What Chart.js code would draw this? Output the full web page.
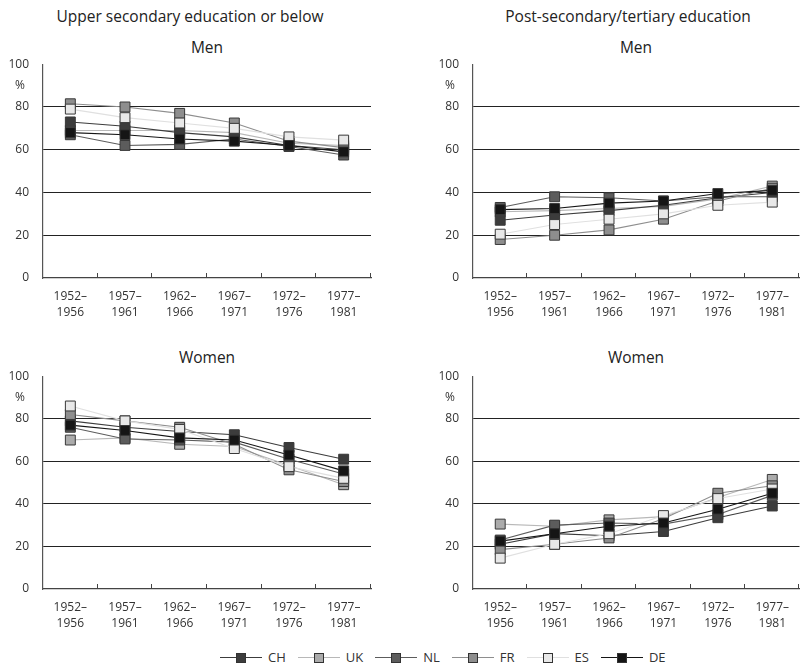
<!DOCTYPE html>
<html><head><meta charset="utf-8">
<script src="https://cdn.jsdelivr.net/npm/chart.js@4/dist/chart.umd.min.js"></script>
<style>
html,body{margin:0;padding:0;background:#fff;}
body{width:800px;height:671px;position:relative;overflow:hidden;font-family:"Open Sans",sans-serif;color:#222;}
.t{position:absolute;font-size:15.5px;white-space:nowrap;transform:translateX(-50%);line-height:20px;}
canvas{position:absolute;}
#legend{position:absolute;left:220px;width:580px;top:647px;height:20px;display:flex;justify-content:flex-start;align-items:center;font-size:13px;color:#333;}
.li{display:flex;align-items:center;margin-right:12px;}
.sym{position:relative;width:42px;height:12px;margin-right:6px;}
.sym .ln{position:absolute;left:0;right:0;top:5.5px;height:1.3px;}
.sym .sq{position:absolute;left:16px;top:1.5px;width:8px;height:8px;border:1px solid #333;}
</style></head>
<body>
<div class="t" style="left:190px;top:6px">Upper secondary education or below</div>
<div class="t" style="left:628px;top:6px">Post-secondary/tertiary education</div>
<div class="t" style="left:207px;top:37px">Men</div>
<div class="t" style="left:636px;top:37px">Men</div>
<div class="t" style="left:207px;top:347px">Women</div>
<div class="t" style="left:636px;top:347px">Women</div>
<canvas id="c1" style="left:0;top:43px" width="380" height="275"></canvas>
<canvas id="c2" style="left:430px;top:43px" width="370" height="275"></canvas>
<canvas id="c3" style="left:0;top:355px" width="380" height="274"></canvas>
<canvas id="c4" style="left:430px;top:355px" width="370" height="274"></canvas>
<div id="legend"></div>
<script>
const categories = ['1952–1956','1957–1961','1962–1966','1967–1971','1972–1976','1977–1981'];
const countries = ['CH','UK','NL','FR','ES','DE'];
const yTicks = [0,20,40,60,80,100];

// Men, upper secondary or below
const menLowCH = [73, 71, 68, 66, 62, 60];
const menLowUK = [69, 69, 69, 68, 63, 62];
const menLowNL = [67, 62, 62.5, 65, 61.5, 57.5];
const menLowFR = [81.5, 80, 77, 72.5, 64, 61];
const menLowES = [79, 75, 72.5, 70, 66, 64.5];
const menLowDE = [68, 67, 65, 64, 62, 59];
// Men, post-secondary/tertiary
const menHighCH = [27, 29.5, 31.5, 34, 37.5, 40];
const menHighUK = [31, 31.5, 32.5, 33.5, 37, 43];
const menHighNL = [33, 38, 37.5, 36, 38, 38];
const menHighFR = [18, 20, 22.5, 27.5, 36, 42];
const menHighES = [20.5, 25, 27.5, 30, 34, 35.5];
const menHighDE = [32, 32.5, 35, 36, 39.5, 41];
// Women, upper secondary or below
const womenLowCH = [79, 76, 74, 72.5, 66.5, 61];
const womenLowUK = [70, 71, 68, 67, 58, 49];
const womenLowNL = [76, 70.5, 70, 69, 61, 54];
const womenLowFR = [82, 79, 76, 68, 56, 50.5];
const womenLowES = [86, 79, 75, 66, 57.5, 52];
const womenLowDE = [77, 74.5, 71, 70, 63, 55.5];
// Women, post-secondary/tertiary
const womenHighCH = [21, 26, 25, 27, 33.5, 39];
const womenHighUK = [30.5, 29.5, 32.5, 34, 43, 51.5];
const womenHighNL = [23, 30, 31, 30.5, 35, 44];
const womenHighFR = [18.5, 21, 24, 33, 45, 48.5];
const womenHighES = [14.5, 21, 26, 34.5, 42.5, 47];
const womenHighDE = [22.5, 26, 29.5, 31, 37.5, 45];

const markerColors = {CH:'#3c3c3c', UK:'#ababab', NL:'#5c5c5c', FR:'#8e8e8e', ES:'#e8e8e8', DE:'#151515'};
const lineColors = {CH:'#3c3c3c', UK:'#b8b8b8', NL:'#5c5c5c', FR:'#8e8e8e', ES:'#e0e0e0', DE:'#151515'};
const drawOrder = {CH:3, UK:5, NL:4, FR:2, ES:1, DE:0};

const FONT = '"Open Sans", sans-serif';

const innerTicks = {
  id:'innerTicks',
  afterDraw(chart){
    const xs = chart.scales.x, ys = chart.scales.y, ctx = chart.ctx;
    const n = chart.data.labels.length;
    ctx.save();
    ctx.strokeStyle = '#444'; ctx.lineWidth = 1;
    ctx.beginPath();
    for(let i=1;i<=n;i++){
      const x = Math.round(xs.left + i*(xs.right-xs.left)/n) - 0.5;
      ctx.moveTo(x, ys.bottom); ctx.lineTo(x, ys.bottom-5);
    }
    ctx.stroke();
    ctx.fillStyle = '#333';
    ctx.font = '12px ' + FONT;
    ctx.textAlign = 'center'; ctx.textBaseline = 'middle';
    ctx.fillText('%', xs.left - 23, ys.top + 21);
    ctx.restore();
  }
};

function makeChart(id, seriesArrs){
  const datasets = countries.map((c,i)=>({
    label:c,
    data:seriesArrs[i],
    borderColor:lineColors[c],
    backgroundColor:markerColors[c],
    pointBackgroundColor:markerColors[c],
    pointBorderColor:'#383838',
    pointBorderWidth:1,
    pointStyle:'rect',
    pointRadius:7,
    pointHoverRadius:7,
    borderWidth:1.1,
    tension:0,
    clip:false,
    order:drawOrder[c]
  }));
  return new Chart(document.getElementById(id), {
    type:'line',
    data:{labels:categories, datasets},
    options:{
      responsive:false, animation:false,
      devicePixelRatio:1,
      layout:{autoPadding:false, padding:{top:0,left:0,right: id==='c1'||id==='c3' ? 9 : 0,bottom:0}},
      plugins:{legend:{display:false}, tooltip:{enabled:false}},
      scales:{
        x:{
          type:'category', offset:true,
          grid:{display:false, drawTicks:false},
          border:{display:true, color:'#444', width:1.2},
          ticks:{
            padding:11, color:'#333', font:{family:FONT,size:12, lineHeight:1.3}, maxRotation:0, autoSkip:false,
            callback:function(v,i){ const s = categories[i]; const k = s.indexOf('–'); return [s.slice(0,k+1), s.slice(k+1)]; }
          },
          afterFit(s){ s.height = 40; }
        },
        y:{
          min:0, max:100,
          afterBuildTicks(s){ s.ticks = yTicks.map(v=>({value:v})); },
          grid:{drawTicks:false, color:(ctx)=> (ctx.tick && (ctx.tick.value===100 || ctx.tick.value===0)) ? 'rgba(0,0,0,0)' : '#222', lineWidth:1},
          border:{display:true, color:'#555', width:1.2},
          ticks:{padding:14, color:'#333', font:{family:FONT,size:12}},
          afterFit(s){ s.width = 43; }
        }
      }
    },
    plugins:[innerTicks]
  });
}

makeChart('c1', [menLowCH, menLowUK, menLowNL, menLowFR, menLowES, menLowDE]);
makeChart('c2', [menHighCH, menHighUK, menHighNL, menHighFR, menHighES, menHighDE]);
makeChart('c3', [womenLowCH, womenLowUK, womenLowNL, womenLowFR, womenLowES, womenLowDE]);
makeChart('c4', [womenHighCH, womenHighUK, womenHighNL, womenHighFR, womenHighES, womenHighDE]);

const lg = document.getElementById('legend');
countries.forEach(c=>{
  const d = document.createElement('div'); d.className='li';
  d.innerHTML = '<div class="sym"><div class="ln" style="background:'+lineColors[c]+'"></div><div class="sq" style="background:'+markerColors[c]+'"></div></div><span>'+c+'</span>';
  lg.appendChild(d);
});
</script>
</body></html>
